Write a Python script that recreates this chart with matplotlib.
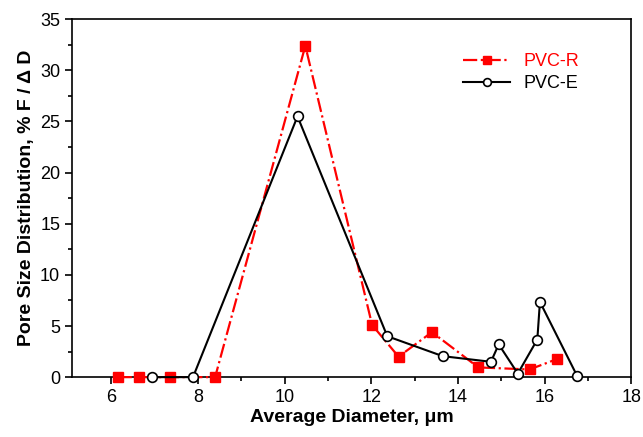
import matplotlib
matplotlib.use("Agg")
import matplotlib.pyplot as plt
from matplotlib.ticker import MultipleLocator

plt.rcParams['font.family'] = ['Liberation Sans', 'DejaVu Sans']

# PVC-R (red squares, dash-dot)
r_x = [6.15, 6.65, 7.35, 8.4, 10.48, 12.02, 12.63, 13.4, 14.47, 15.65, 16.28]
r_y = [0, 0, 0, 0, 32.4, 5.1, 2.0, 4.4, 0.95, 0.75, 1.76]

# PVC-E (open circles, solid)
e_x = [6.94, 7.89, 10.3, 12.37, 13.65, 14.76, 14.94, 15.38, 15.83, 15.89, 16.75]
e_y = [0, 0, 25.5, 4.0, 2.05, 1.5, 3.2, 0.35, 3.68, 7.36, 0.1]

fig = plt.figure(figsize=(6.43, 4.37), dpi=100)
ax = fig.add_axes([0.112, 0.137, 0.870, 0.819])

ax.plot(r_x, r_y, color='red', linestyle='-.', linewidth=1.6, marker='s',
        markersize=7, markerfacecolor='red', markeredgecolor='red',
        label='PVC-R', clip_on=False, zorder=3)
ax.plot(e_x, e_y, color='black', linestyle='-', linewidth=1.5, marker='o',
        markersize=7, markerfacecolor='white', markeredgecolor='black',
        markeredgewidth=1.2, label='PVC-E', clip_on=False, zorder=4)

ax.set_xlim(5.1, 18)
ax.set_ylim(0, 35)
ax.xaxis.set_major_locator(MultipleLocator(2))
ax.xaxis.set_minor_locator(MultipleLocator(1))
ax.yaxis.set_major_locator(MultipleLocator(5))
ax.yaxis.set_minor_locator(MultipleLocator(2.5))
ax.tick_params(which='both', direction='out', top=False, right=False,
               labelsize=13, width=1.2)
ax.tick_params(which='major', length=5)
ax.tick_params(which='minor', length=3)
for s in ax.spines.values():
    s.set_linewidth(1.2)

ax.set_xlabel('Average Diameter, \u03bcm', fontsize=14, fontweight='bold', labelpad=2)
ax.set_ylabel('Pore Size Distribution, % F / \u0394 D', fontsize=14,
              fontweight='bold', labelpad=4)

leg = ax.legend(loc='upper right', bbox_to_anchor=(0.935, 0.95), frameon=False,
                fontsize=13, handlelength=2.6, labelspacing=0.25, markerscale=0.8,
                handletextpad=0.7, labelcolor=['red', 'black'])

fig.savefig('out.png', dpi=100)
